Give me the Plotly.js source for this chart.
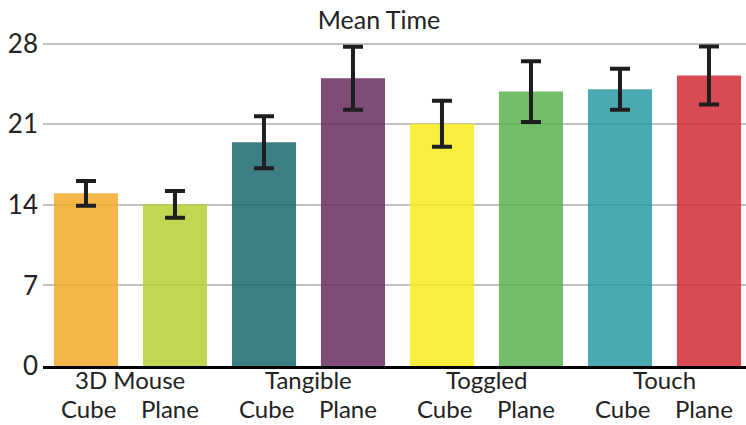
<!DOCTYPE html>
<html>
<head>
<meta charset="utf-8">
<script src="https://cdn.plot.ly/plotly-3.0.1.min.js"></script>
<style>
  html, body { margin: 0; padding: 0; background: #ffffff; }
  #chart { width: 746px; height: 425px; }
</style>
</head>
<body>
<div id="chart"></div>
<script>
// Interaction techniques and the two manipulation modes compared for each
const groups = ['3D Mouse', 'Tangible', 'Toggled', 'Touch'];
const conditions = ['Cube', 'Plane'];

// Mean completion time per bar (group order, Cube then Plane) and its error
const meanTime = [15.0, 14.05, 19.45, 25.0, 21.05, 23.85, 24.05, 25.25];
const errTime  = [1.07, 1.16, 2.26, 2.74, 2.0, 2.64, 1.78, 2.52];

// Bar fill colours, one per bar
const barColors = ['#f4a92a', '#b6d035', '#1b686c', '#682b5f',
                   '#f8eb1b', '#5bb151', '#2a9ba3', '#d12b36'];

const yTicks = [0, 7, 14, 21, 28];

const nbsp = '\u00A0';
const gap = nbsp.repeat(4);
const xPositions = meanTime.map((_, i) => i);
const groupCenters = groups.map((_, g) => g * conditions.length + (conditions.length - 1) / 2);
const conditionLine = conditions.join(gap);

const font = 'Lato, "Open Sans", sans-serif';
const labelFont = { family: font, size: 24, color: '#222222' };

const trace = {
  type: 'bar',
  x: xPositions,
  y: meanTime,
  width: 0.72,
  marker: { color: barColors, opacity: 0.85, line: { width: 0 } },
  error_y: {
    type: 'data',
    array: errTime,
    visible: true,
    color: '#1e1e1e',
    thickness: 4,
    width: 10
  },
  hoverinfo: 'y'
};

// Category labels under each pair of bars: group name, then the two modes
const groupAnnotations = groupCenters.map((cx, g) => ({
  x: cx, xref: 'x',
  y: 0, yref: 'paper',
  xanchor: 'center', yanchor: 'top',
  yshift: 3,
  showarrow: false,
  text: groups[g],
  font: labelFont
}));
const conditionAnnotations = groupCenters.map(cx => ({
  x: cx, xref: 'x',
  y: 0, yref: 'paper',
  xanchor: 'center', yanchor: 'top',
  yshift: -26,
  showarrow: false,
  text: conditionLine,
  font: labelFont
}));

const layout = {
  width: 746,
  height: 425,
  margin: { l: 43, r: 0, t: 38, b: 59, pad: 0 },
  paper_bgcolor: '#ffffff',
  plot_bgcolor: '#ffffff',
  showlegend: false,
  font: { family: font, color: '#222222', size: 24 },
  title: {
    text: 'Mean Time',
    font: { family: font, size: 25, color: '#222222' },
    x: 379 / 746, xanchor: 'center',
    xref: 'container',
    y: 1 - 20.5 / 425, yanchor: 'middle', yref: 'container'
  },
  xaxis: {
    range: [-0.483, 7.416],
    showticklabels: false,
    ticks: '',
    showgrid: false,
    zeroline: false,
    showline: true,
    linecolor: '#000000',
    linewidth: 3,
    fixedrange: true
  },
  yaxis: {
    range: [0, 28.5],
    tickmode: 'array',
    tickvals: yTicks,
    ticktext: yTicks.map(String),
    ticks: '',
    showgrid: true,
    gridcolor: '#c0c0c0',
    gridwidth: 2,
    zeroline: false,
    showline: false,
    tickfont: { family: font, size: 26, color: '#222222' },
    ticklabelstandoff: 4,
    fixedrange: true
  },
  annotations: groupAnnotations.concat(conditionAnnotations),
  bargap: 0.28
};

Plotly.newPlot('chart', [trace], layout, { displayModeBar: false, staticPlot: true });
</script>
</body>
</html>
